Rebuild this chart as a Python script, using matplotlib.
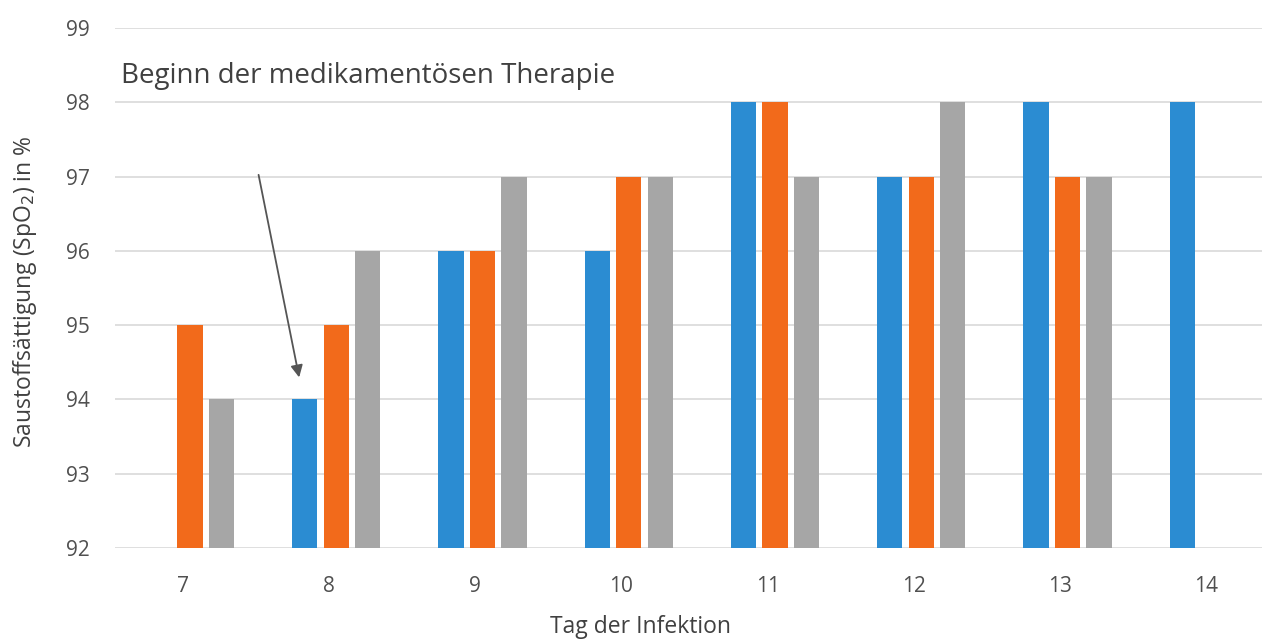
import numpy as np
import matplotlib
matplotlib.use("Agg")
import matplotlib.pyplot as plt

days = [7, 8, 9, 10, 11, 12, 13, 14]
day_labels = ["7", "8", "9", "10", "11", "12", "13", "14"]
series_blue = [np.nan, 94, 96, 96, 98, 97, 98, 98]
series_orange = [95, 95, 96, 97, 98, 97, 97, np.nan]
series_gray = [94, 96, 97, 97, 97, 98, 97, np.nan]
y_ticks = [92, 93, 94, 95, 96, 97, 98, 99]

plt.rcParams['font.family'] = ['Open Sans', 'DejaVu Sans']

fig = plt.figure(figsize=(12.65, 6.43), dpi=100)
ax = fig.add_axes([115/1265, 1-548/643, (1262-115)/1265, (548-28)/643])

x = np.arange(len(days)) + 7
w = 0.172
step = 0.215
ax.bar(x - step, series_blue, width=w, color="#2b8cd2", zorder=3)
ax.bar(x, series_orange, width=w, color="#f26a1b", zorder=3)
ax.bar(x + step, series_gray, width=w, color="#a6a6a6", zorder=3)

ax.set_ylim(92, 99)
ax.set_xlim(6.487, 14.33)
ax.set_yticks(y_ticks)
ax.set_xticks(x - 0.05)
ax.set_xticklabels(day_labels)
ax.grid(axis="y", color="#d9d9d9", linewidth=1.2, zorder=0)
for s in ax.spines.values():
    s.set_visible(False)
ax.tick_params(axis="both", length=0, labelsize=15, labelcolor="#505050")
ax.tick_params(axis="y", pad=18)
ax.tick_params(axis="x", pad=20)

fig.text(640/1265, 1-627/643, "Tag der Infektion", fontsize=16.5, color="#404040",
         ha="center", va="center")
fig.text(25/1265, 1-292/643, "Saustoffsättigung (SpO$_2$) in %", fontsize=16.5,
         color="#404040", ha="center", va="center", rotation=90)

ax.text(6.53, 98.35, "Beginn der medikamentösen Therapie", fontsize=20,
        color="#404040", va="center", ha="left")
ax.annotate("", xy=(7.75, 94.26), xytext=(7.465, 97.06),
            arrowprops=dict(arrowstyle="-|>", color="#555555", lw=1.3,
                            mutation_scale=18))

fig.savefig("out.png", dpi=100)
